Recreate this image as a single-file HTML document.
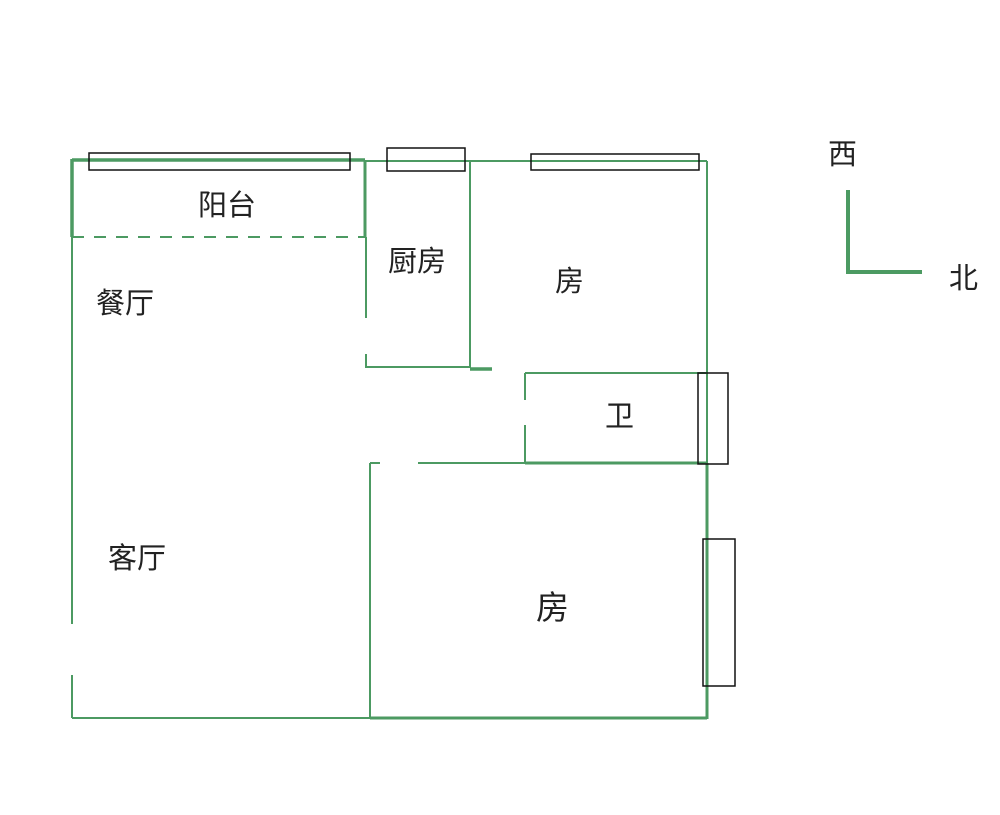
<!DOCTYPE html>
<html><head><meta charset="utf-8"><style>
html,body{margin:0;padding:0;background:#fff;}
svg{display:block}
text{font-family:"Liberation Sans","Noto Sans CJK SC",sans-serif;fill:#222;}
</style></head><body>
<svg width="1000" height="815" viewBox="0 0 1000 815" xmlns="http://www.w3.org/2000/svg">
<g stroke="#4c9a62" fill="none" stroke-width="2">
<line x1="72" y1="160" x2="365" y2="160" stroke-width="3.5"/>
<line x1="365" y1="161" x2="707" y2="161"/>
<line x1="72" y1="159" x2="72" y2="237" stroke-width="3.5"/>
<line x1="72" y1="237" x2="72" y2="624"/>
<line x1="72" y1="675" x2="72" y2="718"/>
<line x1="72" y1="718" x2="370" y2="718"/>
<line x1="72" y1="237" x2="365" y2="237" stroke-dasharray="12,10"/>
<line x1="365" y1="160" x2="365" y2="237" stroke-width="3"/>
<line x1="366" y1="237" x2="366" y2="318"/>
<line x1="366" y1="354" x2="366" y2="368"/>
<line x1="366" y1="367" x2="470" y2="367"/>
<line x1="470" y1="161" x2="470" y2="368"/>
<line x1="470" y1="369" x2="492" y2="369" stroke-width="3.5"/>
<line x1="707" y1="161" x2="707" y2="463"/>
<line x1="707" y1="463" x2="707" y2="719" stroke-width="3"/>
<line x1="525" y1="373" x2="707" y2="373"/>
<line x1="525" y1="373" x2="525" y2="400"/>
<line x1="525" y1="425" x2="525" y2="463"/>
<line x1="525" y1="463" x2="707" y2="463" stroke-width="3"/>
<line x1="418" y1="463" x2="525" y2="463"/>
<line x1="370" y1="463" x2="380" y2="463"/>
<line x1="370" y1="463" x2="370" y2="718"/>
<line x1="370" y1="718" x2="707" y2="718" stroke-width="3"/>
<line x1="848" y1="190" x2="848" y2="273" stroke-width="4"/>
<line x1="846" y1="272" x2="922" y2="272" stroke-width="4"/>
</g>
<g stroke="#111" fill="none" stroke-width="1.5">
<rect x="89" y="153" width="261" height="17"/>
<rect x="387" y="148" width="78" height="23"/>
<rect x="531" y="154" width="168" height="16"/>
<rect x="698" y="373" width="30" height="91"/>
<rect x="703" y="539" width="32" height="147"/>
</g>
<g font-size="29">
<text x="198" y="215">阳台</text>
<text x="388" y="271">厨房</text>
<text x="555" y="291">房</text>
<text x="96" y="313">餐厅</text>
<text x="605" y="426">卫</text>
<text x="108" y="568">客厅</text>
<text x="536" y="619" font-size="33">房</text>
<text x="828" y="164">西</text>
<text x="949" y="288">北</text>
</g>
</svg>
</body></html>
